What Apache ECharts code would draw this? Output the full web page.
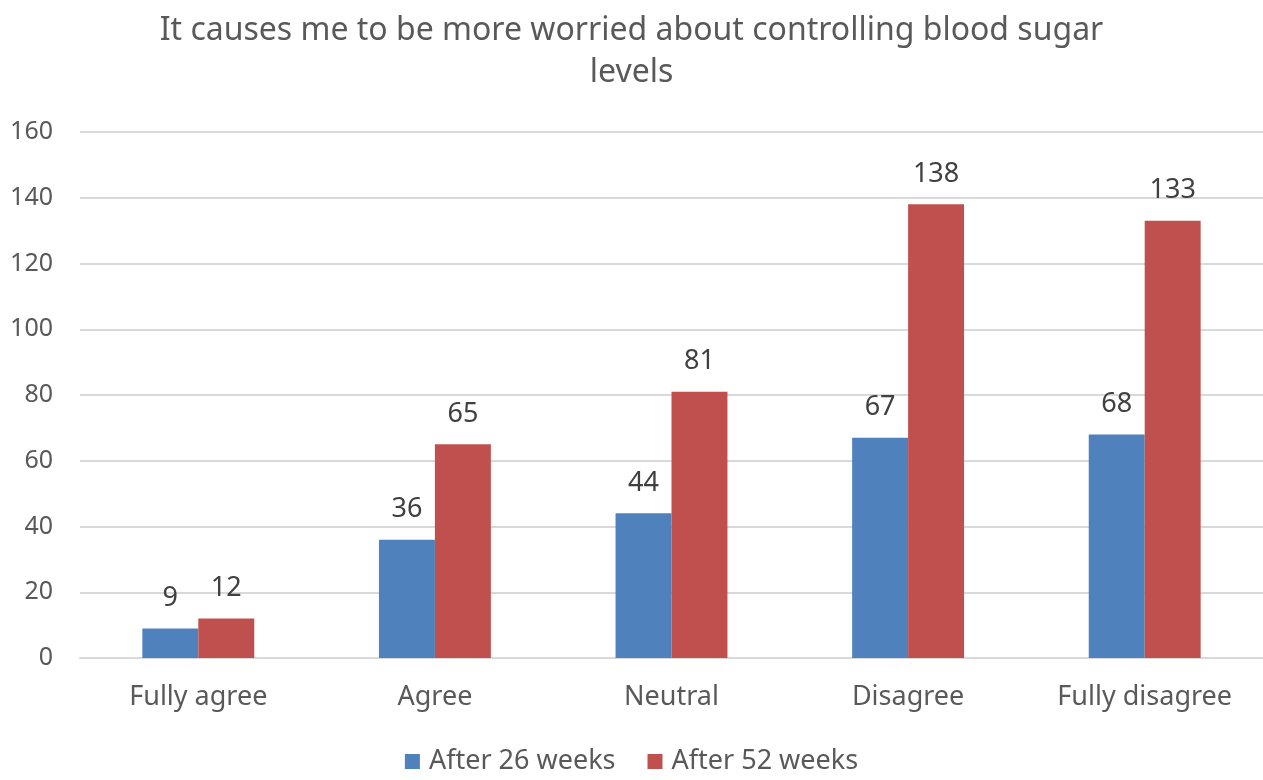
<!DOCTYPE html>
<html>
<head>
<meta charset="utf-8">
<script src="https://cdn.jsdelivr.net/npm/echarts@6/dist/echarts.min.js"></script>
<style>
  html, body { margin: 0; padding: 0; background: #fff; }
  #main { width: 1263px; height: 780px; }
</style>
</head>
<body>
<div id="main"></div>
<script>
var categories = ['Fully agree', 'Agree', 'Neutral', 'Disagree', 'Fully disagree'];
var week26 = [9, 36, 44, 67, 68];
var week52 = [12, 65, 81, 138, 133];
var yTicks = [0, 20, 40, 60, 80, 100, 120, 140, 160];

var chart = echarts.init(document.getElementById('main'));
var font = 'Noto Sans';
var txt = '#595959';

var option = {
    animation: false,
    title: {
        text: 'It causes me to be more worried about controlling blood sugar\nlevels',
        left: 'center',
        top: 5,
        textStyle: { fontFamily: font, fontSize: 32, fontWeight: 'normal', color: txt, lineHeight: 42 }
    },
    legend: {
        bottom: 0,
        left: 'center',
        itemWidth: 15,
        itemHeight: 15,
        itemGap: 32,
        icon: 'rect',
        textStyle: { fontFamily: font, fontSize: 27, color: txt, padding: [0, 0, 0, 4] },
        data: ['After 26 weeks', 'After 52 weeks']
    },
    grid: { left: 80, right: 0, top: 132, bottom: 122 },
    xAxis: {
        type: 'category',
        data: categories,
        axisLine: { lineStyle: { color: '#d9d9d9', width: 2 } },
        axisTick: { show: false },
        axisLabel: { fontFamily: font, fontSize: 27, color: txt, margin: 26 }
    },
    yAxis: {
        type: 'value',
        min: yTicks[0],
        max: yTicks[yTicks.length - 1],
        interval: 20,
        axisLine: { show: false },
        axisTick: { show: false },
        splitLine: { lineStyle: { color: '#d9d9d9', width: 2 } },
        axisLabel: { fontFamily: font, fontSize: 25, color: txt, margin: 27, align: 'right' }
    },
    series: [
        {
            name: 'After 26 weeks',
            type: 'bar',
            data: week26,
            barGap: '0%',
            barCategoryGap: '52.7%',
            itemStyle: { color: '#4F81BD' },
            label: { show: true, position: 'top', distance: 17, fontFamily: font, fontSize: 27, color: '#404040' }
        },
        {
            name: 'After 52 weeks',
            type: 'bar',
            data: week52,
            itemStyle: { color: '#C0504D' },
            label: { show: true, position: 'top', distance: 17, fontFamily: font, fontSize: 27, color: '#404040' }
        }
    ]
};
chart.setOption(option);
</script>
</body>
</html>
